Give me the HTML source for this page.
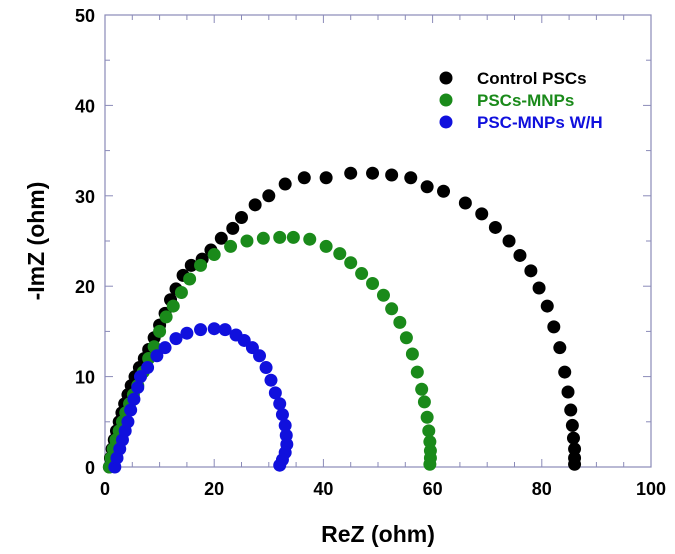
<!DOCTYPE html>
<html><head><meta charset="utf-8"><style>
html,body{margin:0;padding:0;background:#fff;}
svg{display:block;font-family:"Liberation Sans",Arial,sans-serif;font-weight:bold;}
</style></head><body>
<svg id="chart" width="675" height="554" viewBox="0 0 675 554"></svg>
<script>
const xTicks=[0,20,40,60,80,100];
const yTicks=[0,10,20,30,40,50];
const seriesNames=["Control PSCs","PSCs-MNPs","PSC-MNPs W/H"];
const seriesColors=["#000000","#1a8a1a","#1010dd"];
const controlX=[0.8,1,1.3,1.7,2.1,2.6,3.1,3.6,4.2,4.8,5.5,6.3,7.2,8,9,10,11,12,13,14.3,15.8,17.8,19.4,21.3,23.4,25,27.5,30,33,36.5,40.5,45,49,52.5,56,59,62,66,69,71.5,74,76,78,79.5,81,82.2,83.3,84.2,84.8,85.3,85.6,85.8,86,86,86];
const controlY=[0,1,2,3,4,5,6,7,8,9,10,11,12,13,14.3,15.7,17,18.5,19.7,21.2,22.3,23,24,25.3,26.4,27.6,29,30,31.3,32,32,32.5,32.5,32.3,32,31,30.5,29.2,28,26.5,25,23.4,21.7,19.8,17.8,15.5,13.2,10.5,8.3,6.3,4.6,3.2,2,1,0.3];
const mnpX=[0.8,1.1,1.5,2,2.6,3.2,3.8,4.5,5.2,6,7,8,9,10,11.2,12.5,14,15.5,17.5,20,23,26,29,32,34.5,37.5,40.5,43,45,47,49,51,52.5,54,55.2,56.3,57.2,58,58.5,59,59.3,59.5,59.6,59.6,59.5];
const mnpY=[0,1,2,3,4,5,6,7,8,9,10.5,12,13.3,15,16.6,17.8,19.3,20.8,22.3,23.5,24.4,25,25.3,25.4,25.4,25.2,24.4,23.6,22.6,21.4,20.3,19,17.5,16,14.3,12.5,10.5,8.6,7.2,5.5,4,2.8,1.8,1,0.3];
const whX=[1.8,2.2,2.7,3.2,3.7,4.2,4.7,5.3,6,6.5,7.8,9.5,11,13,15,17.5,20,22,24,25.5,27,28.3,29.5,30.4,31.2,32,32.5,33,33.2,33.3,33,32.5,32];
const whY=[0,1,2,3,4,5,6.3,7.5,8.8,10,11,12.3,13.2,14.2,14.8,15.2,15.3,15.2,14.6,14,13.2,12.3,11,9.6,8.2,7,5.8,4.6,3.5,2.5,1.6,0.8,0.2];

const L=105,R=651,T=15,B=467;
const sx=v=>L+(v-0)/(100-0)*(R-L);
const sy=v=>B-(v-0)/(50-0)*(B-T);
const svg=document.getElementById('chart');
const NS="http://www.w3.org/2000/svg";
function mk(tag,attrs,parent){const e=document.createElementNS(NS,tag);for(const k in attrs)e.setAttribute(k,attrs[k]);(parent||svg).appendChild(e);return e;}
const ax="#8a8ab8";
const frame=mk('rect',{x:L,y:T,width:R-L,height:B-T,fill:'none',stroke:ax,'stroke-width':1.2});


// ticks
for(let i=0;i<=20;i++){const v=i*5;const x=sx(v);const len=(i%4===0)?8:5;
 mk('line',{x1:x,y1:B,x2:x,y2:B-len,stroke:ax});mk('line',{x1:x,y1:T,x2:x,y2:T+len,stroke:ax});}
for(let i=0;i<=10;i++){const v=i*5;const y=sy(v);const len=(i%2===0)?8:5;
 mk('line',{x1:L,y1:y,x2:L+len,y2:y,stroke:ax});mk('line',{x1:R,y1:y,x2:R-len,y2:y,stroke:ax});}
xTicks.forEach(v=>{const t=mk('text',{x:sx(v),y:B+28,'text-anchor':'middle','font-size':18,fill:'#000'});t.textContent=v;
 
 });
yTicks.forEach(v=>{const t=mk('text',{x:L-10,y:sy(v)+7,'text-anchor':'end','font-size':18,fill:'#000'});t.textContent=v;
 
 });
const xt=mk('text',{x:(L+R)/2,y:542,'text-anchor':'middle','font-size':23,fill:'#000'});xt.textContent='ReZ (ohm)';


const yt=mk('text',{x:0,y:0,'text-anchor':'middle','font-size':23,fill:'#000',transform:`translate(44,${(T+B)/2}) rotate(-90)`});yt.textContent='-ImZ (ohm)';


const data=[[controlX,controlY],[mnpX,mnpY],[whX,whY]];
const keys=['control','mnp','mnp-wh'];
data.forEach((d,s)=>{const g=mk('g',{});
 
 
 d[0].forEach((xv,i)=>{const c=mk('circle',{cx:sx(xv),cy:sy(d[1][i]),r:6.5,fill:seriesColors[s]},g);
  
  });});
seriesNames.forEach((n,i)=>{const y=78+i*22;
 const g=mk('g',{});
 
 
 mk('circle',{cx:446,cy:y,r:6.5,fill:seriesColors[i]},g);
 const t=mk('text',{x:477,y:y+6,'font-size':17,fill:seriesColors[i]},g);t.textContent=n;});
</script>
</body></html>
